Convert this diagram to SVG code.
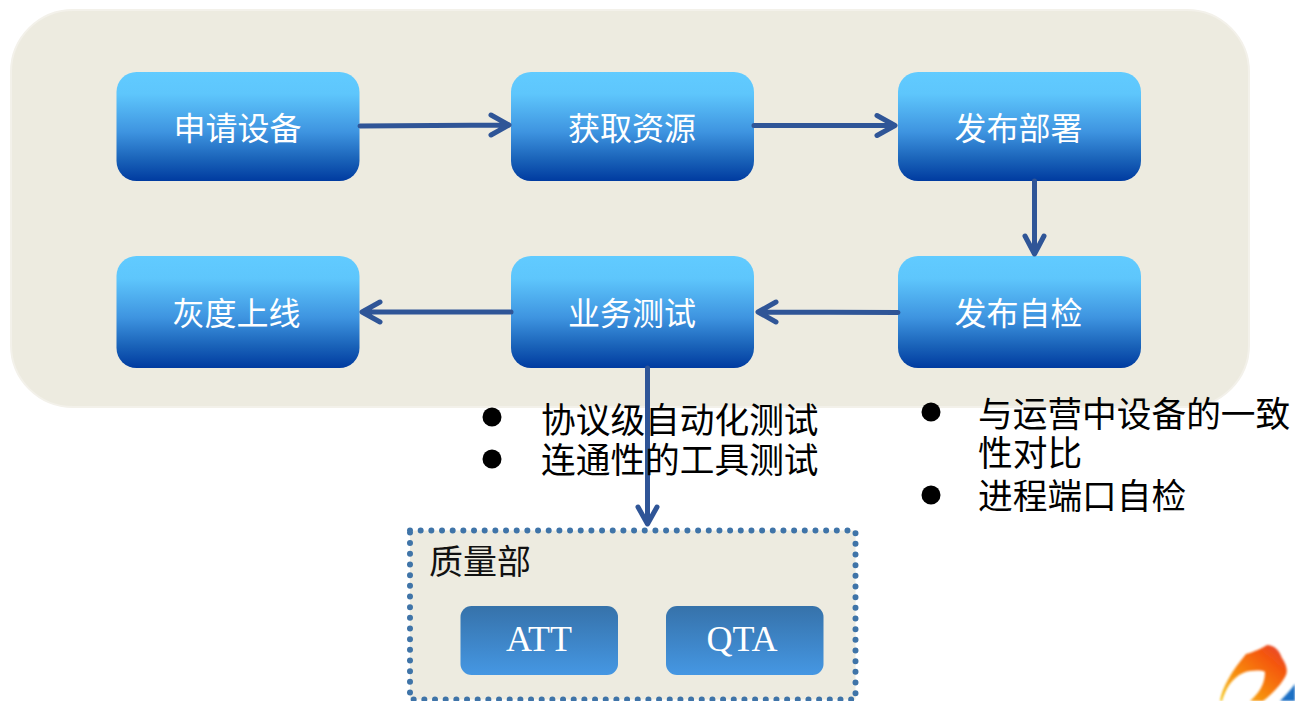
<svg xmlns="http://www.w3.org/2000/svg" width="1295" height="701" viewBox="0 0 1295 701">
<style>
.n{font-family:"Noto Sans CJK SC","Liberation Sans",sans-serif;font-size:32px;fill:#fff;text-anchor:middle}
.b{font-family:"Noto Sans CJK SC","Liberation Sans",sans-serif;font-size:34.700px;fill:#000}
.c{fill:none;stroke:#2f5597;stroke-width:5;stroke-linecap:round;stroke-linejoin:round}
.s{font-family:"Liberation Serif",serif;font-size:36px;fill:#fff;text-anchor:middle}
</style>
<defs>
<linearGradient id="g" x1="0" y1="0" x2="0" y2="1"><stop offset="0" stop-color="#61cbff"/><stop offset=".2" stop-color="#5ec6fc"/><stop offset=".55" stop-color="#3e94e0"/><stop offset=".8" stop-color="#1a63b9"/><stop offset="1" stop-color="#003ba0"/></linearGradient>
<linearGradient id="h" x1="0" y1="0" x2="0" y2="1"><stop offset="0" stop-color="#3672aa"/><stop offset="1" stop-color="#4597e3"/></linearGradient>
<linearGradient id="o" x1="0" y1="1" x2="1" y2="0"><stop offset="0" stop-color="#f5c518"/><stop offset=".45" stop-color="#f7800f"/><stop offset=".75" stop-color="#f4560f"/><stop offset="1" stop-color="#e2433a"/></linearGradient>
<filter id="blur" x="-10%" y="-10%" width="120%" height="120%"><feGaussianBlur stdDeviation="1.100"/></filter>
</defs>
<rect id="panel" x="11" y="10" width="1238" height="397" rx="62" fill="#edebe0" stroke="#f3f1ea" stroke-width="2"/>
<g id="quality">
<rect x="410" y="530.500" width="445.500" height="169" fill="#edebe0" stroke="#3f74a8" stroke-width="6" stroke-linecap="round" stroke-dasharray="0 10.670"/>
<text x="429" y="574" font-family="'Noto Sans CJK SC',serif" font-size="34" fill="#111">质量部</text>
</g>
<g id="att"><rect x="460.500" y="606" width="157.500" height="69" rx="11" fill="url(#h)"/><text class="s" x="539" y="651">ATT</text></g>
<g id="qta"><rect x="666" y="606" width="157.500" height="69" rx="11" fill="url(#h)"/><text class="s" x="742" y="651">QTA</text></g>
<g id="n1"><rect x="116.500" y="72" width="243" height="109" rx="20" fill="url(#g)"/><text class="n" x="237.500" y="140">申请设备</text></g>
<g id="n2"><rect x="511" y="72" width="243" height="109" rx="20" fill="url(#g)"/><text class="n" x="632" y="140">获取资源</text></g>
<g id="n3"><rect x="898" y="72" width="243" height="109" rx="20" fill="url(#g)"/><text class="n" x="1018.500" y="140">发布部署</text></g>
<g id="n4"><rect x="898" y="256" width="243" height="112" rx="20" fill="url(#g)"/><text class="n" x="1018.500" y="325">发布自检</text></g>
<g id="n5"><rect x="511" y="256" width="243" height="112" rx="20" fill="url(#g)"/><text class="n" x="632" y="325">业务测试</text></g>
<g id="n6"><rect x="116.500" y="256" width="243" height="112" rx="20" fill="url(#g)"/><text class="n" x="236.500" y="325">灰度上线</text></g>
<g id="connectors" class="c">
<path d="M360 126 L508 125 M491 115 L509 125 L491 135"/>
<path d="M754 125.500 L893 125.500 M877 115.500 L895 125.500 L877 135.500"/>
<path d="M1034.500 181 L1034.500 252 M1025 236 L1034.500 254 L1044 236"/>
<path d="M898 312.500 L760 312 M776 302 L758 312 L776 322"/>
<path d="M511 312 L364 312 M380 302 L362 312 L380 322"/>
<path d="M647.500 368 L647.500 522 M638 507 L647.500 524 L657 507"/>
</g>
<g id="notes-left">
<circle cx="492" cy="417" r="9.500"/><text class="b" x="541" y="433">协议级自动化测试</text>
<circle cx="492" cy="459" r="9.500"/><text class="b" x="541" y="473">连通性的工具测试</text>
</g>
<g id="notes-right">
<circle cx="931" cy="412" r="9.500"/><text class="b" x="978" y="427">与运营中设备的一致</text>
<text class="b" x="978" y="466">性对比</text>
<circle cx="931" cy="495" r="9.500"/><text class="b" x="978" y="509">进程端口自检</text>
</g>
<g id="logo" filter="url(#blur)">
<path d="M1220 701 C1222 688 1231 672 1246 654 C1254 652 1262 648 1267 645 C1274 645 1279 650 1282 658 C1286 664 1288 670 1286 675 C1282 684 1272 694 1263 701 L1250 701 C1258 694 1265 685 1265 672 C1262 670 1250 670 1243 673 C1232 678 1226 688 1222 701 Z" fill="url(#o)"/>
<path d="M1280 701 C1286 695 1291 689 1295 684 L1295 701 Z" fill="#1b6fc4"/>
</g>
</svg>
